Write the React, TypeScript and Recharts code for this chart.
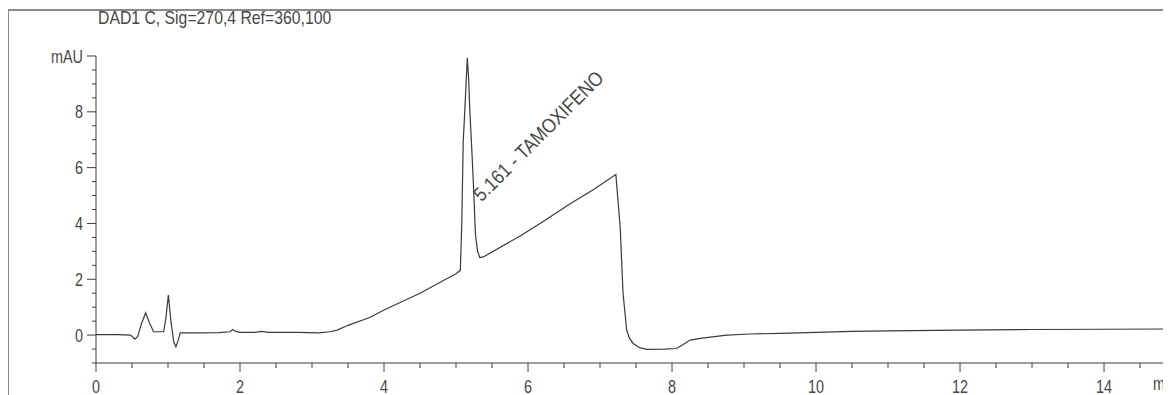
import React from 'react';
import { LineChart, Line, XAxis, YAxis, ReferenceDot } from 'recharts';

// Retention time (min)
const times: number[] = [
  0.0, 0.3, 0.48, 0.54, 0.58, 0.63, 0.69, 0.74, 0.8, 0.94, 0.97, 1.005, 1.04, 1.08, 1.11, 1.14, 1.17,
  1.4, 1.7, 1.86, 1.9, 1.94, 2.0, 2.2, 2.3, 2.4, 2.8, 3.1, 3.25, 3.35, 3.5, 3.81, 4.0, 4.5, 4.8,
  5.0, 5.06, 5.08, 5.1, 5.135, 5.157, 5.175, 5.19, 5.22, 5.24, 5.27, 5.3, 5.33, 5.38, 5.89, 6.2,
  6.58, 6.9, 7.22, 7.28, 7.32, 7.37, 7.41, 7.46, 7.55, 7.65, 7.9, 8.06, 8.15, 8.25, 8.39, 8.76,
  9.08, 9.5, 10, 10.5, 11, 12, 13, 14, 14.93,
];

// Absorbance (mAU)
const absorbance: number[] = [
  0.02, 0.02, 0.0, -0.15, -0.05, 0.4, 0.8, 0.45, 0.12, 0.12, 0.6, 1.43, 0.5, -0.25, -0.42, -0.2, 0.08,
  0.08, 0.09, 0.12, 0.2, 0.13, 0.1, 0.1, 0.13, 0.1, 0.1, 0.08, 0.12, 0.18, 0.35, 0.64, 0.9, 1.5, 1.92,
  2.2, 2.32, 4.0, 6.9, 8.75, 9.94, 9.2, 8.15, 6.6, 5.5, 3.6, 3.0, 2.78, 2.8, 3.55, 4.05,
  4.7, 5.2, 5.75, 3.87, 1.49, 0.18, -0.12, -0.3, -0.45, -0.51, -0.5, -0.48, -0.35, -0.18, -0.12, 0.0,
  0.04, 0.06, 0.1, 0.13, 0.15, 0.18, 0.2, 0.21, 0.22,
];

const xTicks: number[] = [
  0, 0.5, 1, 1.5, 2, 2.5, 3, 3.5, 4, 4.5, 5, 5.5, 6, 6.5, 7, 7.5, 8, 8.5, 9, 9.5, 10, 10.5, 11,
  11.5, 12, 12.5, 13, 13.5, 14, 14.5,
];
const yTicks: number[] = [
  -1, -0.5, 0, 0.5, 1, 1.5, 2, 2.5, 3, 3.5, 4, 4.5, 5, 5.5, 6, 6.5, 7, 7.5, 8, 8.5, 9, 9.5, 10,
];

const titleText = 'DAD1 C, Sig=270,4 Ref=360,100';
const peakLabel = '5.161 - TAMOXIFENO';
const peakTime = 5.161;
const yUnit = 'mAU';
const xUnit = 'min';

const data = times.map((t, i) => ({ t, v: absorbance[i] }));

const FONT = '"Liberation Sans", Arial, sans-serif';
const TEXT = '#474747';
const AXIS = '#3c3c3c';
const NARROW = 0.8;

const XTick = (props: any) => {
  const { x, y, payload } = props;
  const v = payload.value as number;
  const major = v % 2 === 0;
  return (
    <g>
      <line x1={x} x2={x} y1={y} y2={y + (major ? 9 : 5)} stroke={AXIS} strokeWidth={1} />
      {major && (
        <text
          x={0}
          y={0}
          transform={`translate(${x} ${y + 30}) scale(${NARROW} 1)`}
          textAnchor="middle"
          fill={TEXT}
          fontSize={18}
          fontFamily={FONT}
        >
          {v}
        </text>
      )}
    </g>
  );
};

const YTick = (props: any) => {
  const { x, y, payload } = props;
  const v = payload.value as number;
  const major = v >= 0 && v % 2 === 0;
  const label = v === 10 ? yUnit : String(v);
  return (
    <g>
      <line x1={x - (major ? 9 : 4)} x2={x} y1={y} y2={y} stroke={AXIS} strokeWidth={1} />
      {major && (
        <text
          x={0}
          y={0}
          transform={`translate(${x - 13} ${y + 6.5}) scale(${NARROW} 1)`}
          textAnchor="end"
          fill={TEXT}
          fontSize={18}
          fontFamily={FONT}
        >
          {label}
        </text>
      )}
    </g>
  );
};

const PeakLabel = (props: any) => {
  const vb = props.viewBox || {};
  const cx = (vb.x ?? 0) + (vb.width ?? 0) / 2 + 14;
  const cy = (vb.y ?? 0) + (vb.height ?? 0) / 2;
  return (
    <text
      x={0}
      y={0}
      transform={`translate(${cx} ${cy}) rotate(-45) scale(0.88 1)`}
      fill={TEXT}
      fontSize={20}
      fontFamily={FONT}
    >
      {peakLabel}
    </text>
  );
};

export default function App() {
  return (
    <div style={{ position: 'relative', width: 1163, height: 387, overflow: 'hidden', background: '#fff' }}>
      <div style={{ position: 'absolute', left: -1, top: 1, width: 2, height: 400, background: '#8a8a8a' }} />
      <div style={{ position: 'absolute', left: -1, top: 1, width: 1170, height: 2, background: '#8a8a8a' }} />
      <div
        style={{
          position: 'absolute',
          left: 90,
          top: 0,
          fontFamily: FONT,
          fontSize: 19,
          color: TEXT,
          lineHeight: '20px',
          whiteSpace: 'nowrap',
          transform: 'scaleX(0.83)',
          transformOrigin: 'left top',
        }}
      >
        {titleText}
      </div>
      <div
        style={{
          position: 'absolute',
          left: 1145,
          top: 366,
          fontFamily: FONT,
          fontSize: 18,
          color: TEXT,
          lineHeight: '20px',
          whiteSpace: 'nowrap',
          transform: `scaleX(${NARROW})`,
          transformOrigin: 'left top',
        }}
      >
        {xUnit}
      </div>
      <LineChart width={1163} height={387} data={data} margin={{ top: 48, right: 0, bottom: 0, left: 0 }}>
        <XAxis
          type="number"
          dataKey="t"
          domain={[0, 14.93]}
          ticks={xTicks}
          interval={0}
          allowDataOverflow
          tickSize={0}
          tickMargin={0}
          tickLine={false}
          tick={<XTick />}
          axisLine={{ stroke: AXIS, strokeWidth: 1 }}
          height={32}
        />
        <YAxis
          type="number"
          domain={[-1, 10]}
          ticks={yTicks}
          interval={0}
          allowDataOverflow
          tickSize={0}
          tickMargin={0}
          tickLine={false}
          tick={<YTick />}
          axisLine={{ stroke: AXIS, strokeWidth: 1 }}
          width={88}
        />
        <Line
          type="linear"
          dataKey="v"
          stroke="#3a3a3a"
          strokeWidth={1.2}
          dot={false}
          isAnimationActive={false}
        />
        <ReferenceDot
          x={peakTime}
          y={4.75}
          r={1}
          fill="none"
          stroke="none"
          label={<PeakLabel />}
        />
      </LineChart>
    </div>
  );
}
